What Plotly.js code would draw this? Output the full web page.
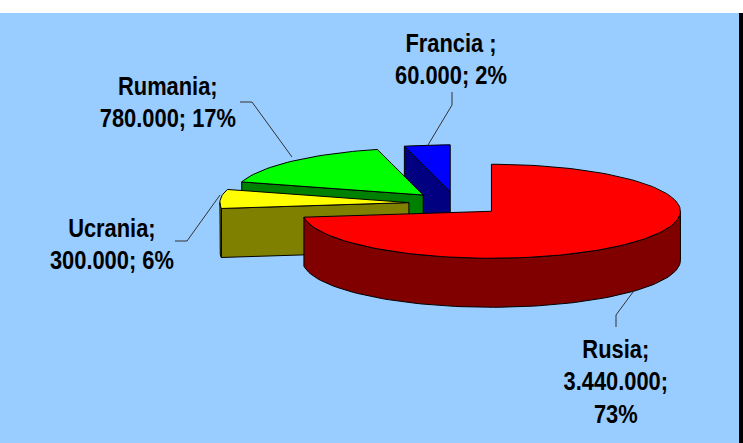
<!DOCTYPE html>
<html><head><meta charset="utf-8">
<script src="https://cdn.plot.ly/plotly-3.0.1.min.js"></script>
<style>html,body{margin:0;padding:0;background:#fff}#c{width:743px;height:443px}</style>
</head><body><div id="c"></div>
<script>
// Data, in clockwise pie order starting at 12 o'clock
const categories = ['Rusia','Ucrania','Rumania','Francia'];
const sliceShares = [73, 6.5, 16.6, 3.9];
const labelLines = [
  ['Rusia;','3.440.000;','73%'],
  ['Ucrania;','300.000; 6%'],
  ['Rumania;','780.000; 17%'],
  ['Francia ;','60.000; 2%']
];
const topColors = ['#FF0000','#FFFF00','#00FF00','#0000FF'];
const sideColors = ['#800000','#808000','#008000','#000080'];
const labelX = [616,112,168,451];
const labelY = [381,244,102,59];
const leaderX = [[633,616,616],[220,187,175],[292,252,240],[428,452,452]];
const leaderY = [[292,315,327],[195,241,241],[157,102,102],[145,105,92]];

// Pie projection in axis units
const cx=456, cy=203.5, rx=189, ry=47, depth=49, explode=0.25;
const rad=d=>d*Math.PI/180;
const rim=(c,a,dz)=>[c[0]+rx*Math.sin(rad(a)), c[1]-ry*Math.cos(rad(a))+(dz||0)];
function arc(c,a0,a1,dz){const n=Math.max(2,Math.ceil(Math.abs(a1-a0)/2));const out=[];
  for(let i=0;i<=n;i++) out.push(rim(c,a0+(a1-a0)*i/n,dz));return out;}
function poly(pts,fill,name){return {type:'scatter',mode:'lines',name:name,
  x:pts.map(p=>p[0]).concat(pts[0][0]),y:pts.map(p=>p[1]).concat(pts[0][1]),
  fill:'toself',fillcolor:fill,line:{color:'#000',width:1},hoverinfo:'skip',showlegend:false};}

const total=sliceShares.reduce((a,b)=>a+b,0);
let acc=0;
const slices=sliceShares.map((s,i)=>{const a0=acc/total*360;acc+=s;const a1=acc/total*360;
  const mid=(a0+a1)/2;
  const c=[cx+explode*rx*Math.sin(rad(mid)),cy-explode*ry*Math.cos(rad(mid))];
  return {i,a0,a1,c};});

const traces=[];
[3,2,1,0].forEach(k=>{const s=slices[k];
  // flat cut face that looks towards the viewer
  if(s.a0>180){const r=rim(s.c,s.a0);
    traces.push(poly([s.c,r,[r[0],r[1]+depth],[s.c[0],s.c[1]+depth]],sideColors[k],categories[k]));}
  // outer wall on the near half of the ellipse
  const w0=Math.max(s.a0,90), w1=Math.min(s.a1,270);
  if(w1>w0){traces.push(poly(arc(s.c,w0,w1,0).concat(arc(s.c,w1,w0,depth)),sideColors[k],categories[k]));}
  // top
  traces.push(poly([s.c].concat(arc(s.c,s.a0,s.a1,0)),topColors[k],categories[k]));
});
leaderX.forEach((xs,i)=>traces.push({type:'scatter',mode:'lines',x:xs,y:leaderY[i],
  line:{color:'#333',width:1},hoverinfo:'skip',showlegend:false}));

const layout={width:743,height:443,margin:{l:0,r:0,t:0,b:0},showlegend:false,
  paper_bgcolor:'#fff',plot_bgcolor:'#99CCFF',
  xaxis:{range:[0,743],visible:false,fixedrange:true},
  yaxis:{range:[443,0],visible:false,fixedrange:true},
  shapes:[
    {type:'rect',layer:'below',xref:'x',yref:'y',x0:0,x1:743,y0:0,y1:13,fillcolor:'#fff',line:{width:0}},
    {type:'rect',layer:'below',xref:'x',yref:'y',x0:739,x1:743,y0:13,y1:443,fillcolor:'#000',line:{width:0}}
  ],
  annotations:labelLines.map((l,i)=>({xref:'x',yref:'y',x:labelX[i],y:labelY[i],
    text:l.join('<br>'),showarrow:false,align:'center',xanchor:'center',yanchor:'middle',
    font:{family:'"Liberation Sans",Arial,sans-serif',size:25,color:'#000',weight:700}}))
};
Plotly.newPlot('c',traces,layout,{displayModeBar:false,staticPlot:true}).then(gd=>{
  // the reference lettering is condensed: squeeze each label horizontally about its centre
  gd.querySelectorAll('text.annotation-text').forEach(t=>{
    const b=t.getBBox(), m=b.x+b.width/2, prev=t.getAttribute('transform')||'';
    t.setAttribute('transform',prev+' translate('+m+',0) scale(0.875,1) translate('+(-m)+',0)');
  });
});
</script></body></html>
